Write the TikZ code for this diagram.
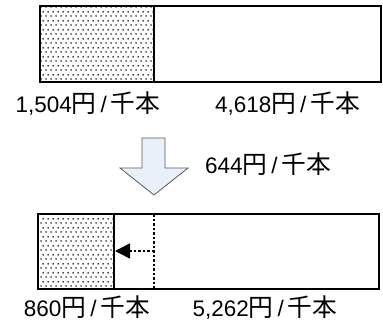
\documentclass[tikz,border=0pt]{standalone}
\usepackage{fontspec}
\setmainfont{Liberation Sans}
\newfontfamily\cjkfont{Noto Sans CJK JP}[Scale=1.1]
\usetikzlibrary{patterns.meta,arrows.meta}
\tikzdeclarepattern{
  name=mydots, type=uncolored,
  bounding box={(0pt,0pt) and (5pt,9pt)},
  tile size={(5pt,9pt)},
  code={\fill (1.25pt,2.25pt) circle (0.95pt); \fill (3.75pt,6.75pt) circle (0.95pt);}
}
\definecolor{arrowfill}{RGB}{234,240,250}
\definecolor{arrowline}{RGB}{90,90,90}
\tikzset{
  barbox/.style={draw=black, line width=1.7pt},
  dotfill/.style={pattern={mydots}, pattern color=black},
  lab/.style={inner sep=0pt, font=\fontsize{22.5}{23}\selectfont},
  bigarrow/.style={draw=arrowline, fill=arrowfill, line width=0.8pt, line join=miter},
  shiftline/.style={dashed, dash pattern=on 2.5pt off 2pt, line width=1.5pt},
}
\newcommand\unitjp{{\cjkfont 円}\hspace{4pt}/\hspace{4pt}{\cjkfont 千本}}
\begin{document}
\begin{tikzpicture}[x=1pt,y=-1pt]
\useasboundingbox (0,0) rectangle (383,324);
% top bar
\coordinate (t1) at (40,6);
\coordinate (t2) at (154,82);
\coordinate (t3) at (381,82);
\fill[dotfill] (t1) rectangle (t2);
\draw[barbox] (t1) rectangle (t3);
\draw[barbox] (154,6) -- (t2);
\node[lab, anchor=base] (ta) at (88,112) {1,504\unitjp};
\node[lab, anchor=base] (tb) at (287.5,112) {4,618\unitjp};
% big down arrow
\draw[bigarrow] (142,138) -- (165,138) -- (165,168) -- (188,168) -- (154,195)
  -- (120,168) -- (142,168) -- cycle;
\node[lab, anchor=base west] (dl) at (205,173) {644\unitjp};
% bottom bar
\coordinate (b1) at (38,214);
\coordinate (b2) at (114,289);
\coordinate (b3) at (379,289);
\fill[dotfill] (b1) rectangle (b2);
\draw[barbox] (b1) rectangle (b3);
\draw[barbox] (114,214) -- (b2);
\coordinate (d1) at (154,214);
\coordinate (d2) at (154,289);
\draw[shiftline] (d1) -- (d2);
\coordinate (as) at (154,251);
\coordinate (ae) at (115,251);
\draw[shiftline, -{Triangle[length=15pt,width=15pt]}] (as) -- (ae);
\node[lab, anchor=base] (ba) at (87,316) {860\unitjp};
\node[lab, anchor=base] (bb) at (265,316) {5,262\unitjp};
\end{tikzpicture}
\end{document}
